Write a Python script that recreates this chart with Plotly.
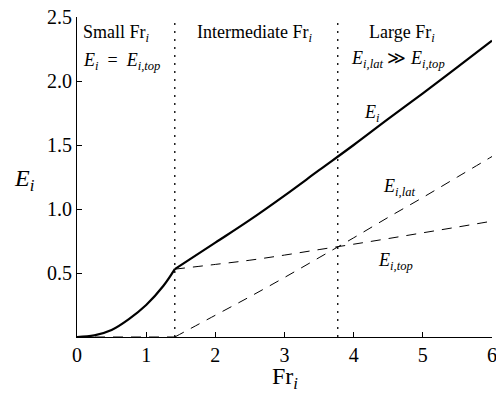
import plotly.graph_objects as go

# Froude number samples and entrainment components
fr_small = [0.0, 0.25, 0.5, 0.75, 1.0, 1.25, 1.414]
ei_small = [0.0, 0.013, 0.055, 0.14, 0.25, 0.40, 0.53]

fr_large = [1.414, 2.0, 2.5, 3.0, 3.5, 4.0, 4.5, 5.0, 5.5, 6.0]
ei_top = [0.53, 0.567, 0.60, 0.64, 0.683, 0.725, 0.769, 0.814, 0.859, 0.905]
ei_lat = [0.0, 0.17, 0.315, 0.465, 0.62, 0.775, 0.935, 1.09, 1.25, 1.41]
ei_total = [0.53, 0.737, 0.915, 1.105, 1.303, 1.50, 1.704, 1.904, 2.109, 2.315]

# lateral entrainment is zero below the first regime boundary
fr_lat_zero = [0.0, 1.414]
ei_lat_zero = [0.0, 0.0]

regime_bounds = [1.414, 3.77]

x_ticks = [0, 1, 2, 3, 4, 5, 6]
y_ticks = [0.5, 1.0, 1.5, 2.0, 2.5]
y_tick_text = ["0.5", "1.0", "1.5", "2.0", "2.5"]

FONT = "Liberation Serif, Times New Roman, serif"
DASH = "10px,8px"

fig = go.Figure()

fig.add_trace(go.Scatter(x=fr_lat_zero, y=ei_lat_zero, mode="lines",
                         line=dict(color="black", width=1, dash=DASH)))
fig.add_trace(go.Scatter(x=fr_large, y=ei_top, mode="lines",
                         line=dict(color="black", width=1, dash=DASH, shape="spline")))
fig.add_trace(go.Scatter(x=fr_large, y=ei_lat, mode="lines",
                         line=dict(color="black", width=1, dash=DASH, shape="spline")))
fig.add_trace(go.Scatter(x=fr_small, y=ei_small, mode="lines",
                         line=dict(color="black", width=2.2, shape="spline")))
fig.add_trace(go.Scatter(x=fr_large, y=ei_total, mode="lines",
                         line=dict(color="black", width=2.2, shape="spline")))

for xb in regime_bounds:
    fig.add_shape(type="line", xref="x", yref="y", x0=xb, x1=xb, y0=0, y1=2.47,
                  line=dict(color="black", width=1.3, dash="2px,6px"))

def label(text, x, y, size=18, xanchor="center"):
    fig.add_annotation(text=text, x=x, y=y, xref="x", yref="y", showarrow=False,
                       xanchor=xanchor, yanchor="middle",
                       font=dict(family=FONT, size=size, color="black"))

label("Small Fr<sub><i>i</i></sub>", 0.06, 2.375, xanchor="left")
label("<i>E<sub>i</sub></i>  =  <i>E<sub>i,top</sub></i>", 0.06, 2.15, xanchor="left")
label("Intermediate Fr<sub><i>i</i></sub>", 2.57, 2.375)
label("Large Fr<sub><i>i</i></sub>", 4.70, 2.375)
label("<i>E<sub>i,lat</sub></i> ≫ <i>E<sub>i,top</sub></i>", 4.64, 2.17)
label("<i>E<sub>i</sub></i>", 4.27, 1.75)
label("<i>E<sub>i,lat</sub></i>", 4.66, 1.17)
label("<i>E<sub>i,top</sub></i>", 4.61, 0.59)

# axis titles: horizontal y title left of the axis, x title below the tick labels
PLOT_W, PLOT_H = 496 - 81, 393 - 73
fig.add_annotation(text="<i>E<sub>i</sub></i>", xref="paper", yref="paper",
                   x=(25 - 77) / PLOT_W, y=(337 - 180) / PLOT_H,
                   showarrow=False, xanchor="center", yanchor="middle",
                   font=dict(family=FONT, size=24, color="black"))
fig.add_annotation(text="Fr<sub><i>i</i></sub>", xref="paper", yref="paper",
                   x=(285 - 77) / PLOT_W, y=(337 - 378) / PLOT_H,
                   showarrow=False, xanchor="center", yanchor="middle",
                   font=dict(family=FONT, size=24, color="black"))

fig.update_layout(
    width=496, height=393,
    margin=dict(l=77, r=4, t=17, b=56, autoexpand=False),
    paper_bgcolor="white", plot_bgcolor="white",
    showlegend=False,
    font=dict(family=FONT, size=16, color="black"),
)

fig.update_xaxes(range=[0, 6], tickvals=x_ticks, ticks="inside", ticklen=5,
                 tickcolor="black", showline=True, linecolor="black", linewidth=1.2,
                 showgrid=False, zeroline=False, ticklabeloverflow="allow",
                 automargin=False,
                 tickfont=dict(family=FONT, size=20))
fig.update_yaxes(range=[0, 2.5], tickvals=y_ticks, ticktext=y_tick_text, ticks="inside",
                 ticklen=5, tickcolor="black", showline=True, linecolor="black",
                 linewidth=1.2, showgrid=False, zeroline=False, automargin=False,
                 tickfont=dict(family=FONT, size=20))

fig.write_html("out.html")
